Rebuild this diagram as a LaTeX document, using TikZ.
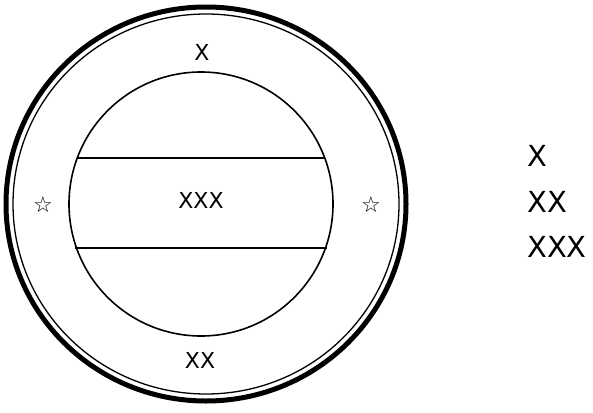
\documentclass[tikz,border=0pt]{standalone}
\usepackage{fontspec}
\setmainfont{DejaVu Sans}
\usetikzlibrary{positioning}

\begin{document}
\begin{tikzpicture}[x=1pt, y=-1pt, every node/.style={inner sep=0pt, font=\fontsize{22}{22}\selectfont}, legend/.style={anchor=west, font=\fontsize{29}{29}\selectfont}, star/.style={font=\fontsize{22}{22}\selectfont}]
        \useasboundingbox (0,0) rectangle (593,412);
        % rings
        \draw[line width=5pt] (206,204) ellipse [x radius=200, y radius=197];
        \draw[line width=1.3pt] (206,204) ellipse [x radius=193, y radius=190];
        \draw[line width=1.6pt] (201,204) circle [radius=132];
        % band
        \draw[line width=2pt] (77,158) -- (325,158);
        \draw[line width=2pt] (75,248) -- (327,248);
        \node (top) at (202,52) {X};
        \node (mid) at (201,200) {XXX};
        \node (bot) at (200,360) {XX};
        \node[star] (starl) at (43,205) {☆};
        \node[star] (starr) at (371,205) {☆};
        % legend
        \node[legend] (l1) at (527,156) {X};
        \node[legend] (l2) [below=24pt of l1.south west, anchor=north west] {XX};
        \node[legend] (l3) [below=24pt of l2.south west, anchor=north west] {XXX};
      \end{tikzpicture}
\end{document}
